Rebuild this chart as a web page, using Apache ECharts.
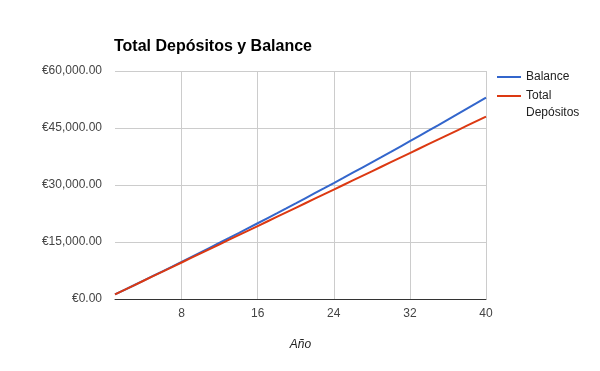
<!DOCTYPE html>
<html>
<head>
<meta charset="utf-8">
<script src="https://cdn.jsdelivr.net/npm/echarts@6/dist/echarts.min.js"></script>
<style>html,body{margin:0;padding:0;background:#fff}#c{width:600px;height:371px}</style>
</head>
<body>
<div id="c"></div>
<script>
const years = ['1','2','3','4','5','6','7','8','9','10','11','12','13','14','15','16','17','18','19','20','21','22','23','24','25','26','27','28','29','30','31','32','33','34','35','36','37','38','39','40'];
const balance = [1200,2406,3618,4836,6060,7290,8526,9769,11018,12273,13534,14802,16076,17356,18643,19936,21236,22542,23855,25174,26500,27832,29171,30517,31870,33229,34595,35968,37348,38735,40129,41530,42938,44353,45775,47204,48640,50083,51533,52991];
const deposits = [1200,2400,3600,4800,6000,7200,8400,9600,10800,12000,13200,14400,15600,16800,18000,19200,20400,21600,22800,24000,25200,26400,27600,28800,30000,31200,32400,33600,34800,36000,37200,38400,39600,40800,42000,43200,44400,45600,46800,48000];
const xTickLabels = ['8','16','24','32','40'];
const yTicks = [0,15000,30000,45000,60000];

const FONT = 'Arial, "Liberation Sans", sans-serif';
function money(v){
  const s = v.toFixed(2);
  const [i,d] = s.split('.');
  return '€' + i.replace(/\B(?=(\d{3})+(?!\d))/g, ',') + '.' + d;
}
const showX = (idx, val) => xTickLabels.indexOf(String(val)) >= 0;

const chart = echarts.init(document.getElementById('c'));
chart.setOption({
  animation: false,
  backgroundColor: '#fff',
  title: {
    text: 'Total Depósitos y Balance',
    left: 114, top: 39, padding: 0,
    textStyle: {fontFamily: FONT, fontSize: 16, fontWeight: 'bold', color: '#000'}
  },
  legend: [
    {
      data: ['Balance'], orient: 'vertical', left: 492, top: 63.5,
      icon: 'rect', itemWidth: 24, itemHeight: 2, itemGap: 5,
      textStyle: {fontFamily: FONT, fontSize: 12, color: '#222', lineHeight: 17}
    },
    {
      data: ['Total Depósitos'], orient: 'vertical', left: 492, top: 65.5,
      icon: 'rect', itemWidth: 24, itemHeight: 2, itemGap: 5,
      formatter: () => ' \nTotal\nDepósitos',
      textStyle: {fontFamily: FONT, fontSize: 12, color: '#222', lineHeight: 17}
    }
  ],
  grid: {left: 115, right: 114, top: 71, bottom: 72, containLabel: false},
  xAxis: {
    type: 'category', data: years, boundaryGap: false,
    name: 'Año', nameLocation: 'middle', nameGap: 40,
    nameTextStyle: {fontFamily: FONT, fontSize: 12, fontStyle: 'italic', color: '#222'},
    axisLine: {show: true, lineStyle: {color: '#333', width: 1}},
    axisTick: {show: false},
    axisLabel: {interval: showX, fontFamily: FONT, fontSize: 12, color: '#444', margin: 9},
    splitLine: {show: true, interval: showX, lineStyle: {color: '#ccc', width: 1}}
  },
  yAxis: {
    type: 'value', min: yTicks[0], max: yTicks[yTicks.length-1], interval: 15000,
    axisLine: {show: false}, axisTick: {show: false},
    axisLabel: {formatter: money, fontFamily: FONT, fontSize: 12, color: '#444', margin: 13},
    splitLine: {show: true, lineStyle: {color: '#ccc', width: 1}}
  },
  series: [
    {name: 'Balance', type: 'line', data: balance, symbol: 'none', color: '#3366cc', lineStyle: {width: 2, color: '#3366cc'}},
    {name: 'Total Depósitos', type: 'line', data: deposits, symbol: 'none', color: '#dc3912', lineStyle: {width: 2, color: '#dc3912'}}
  ]
});
</script>
</body>
</html>
